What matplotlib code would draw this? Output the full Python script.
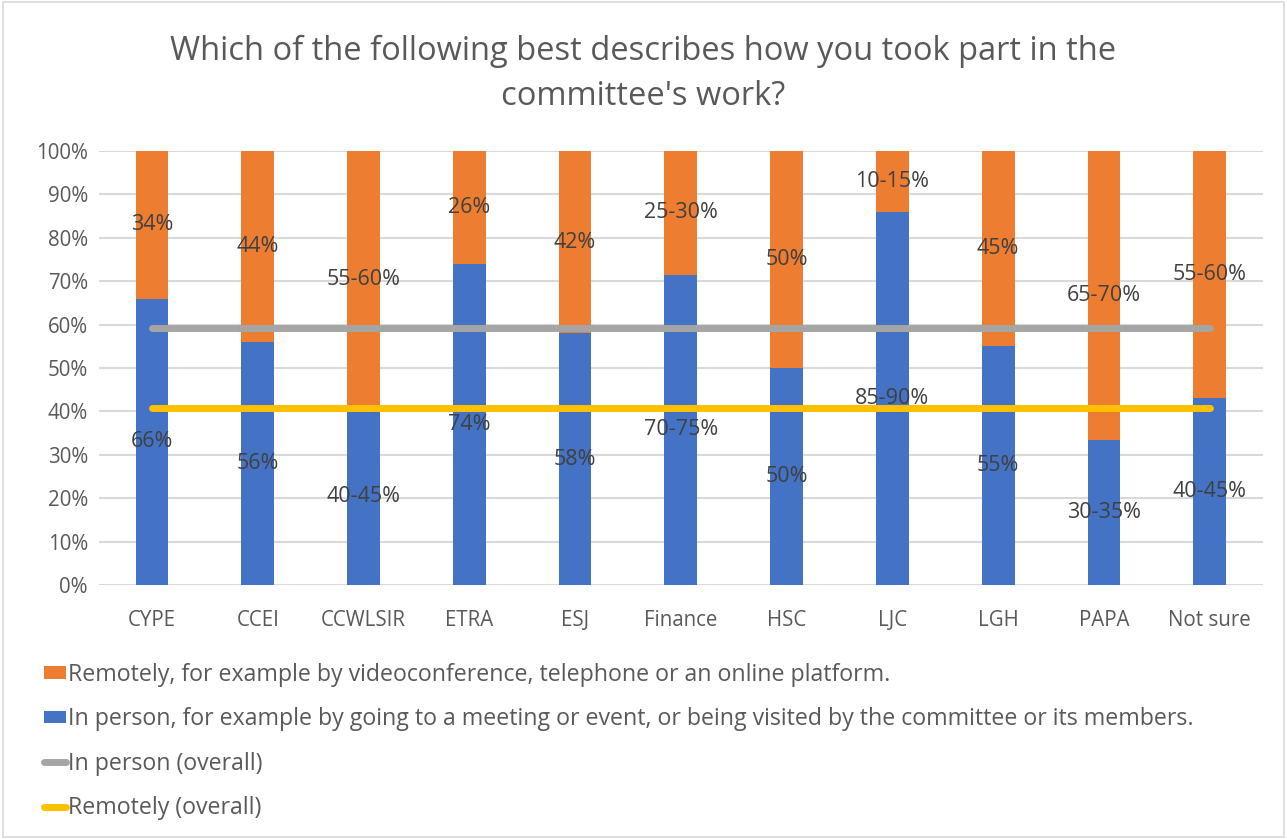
import matplotlib
matplotlib.use("Agg")
import matplotlib.pyplot as plt
from matplotlib.patches import Patch, Rectangle
from matplotlib.lines import Line2D
import numpy as np

plt.rcParams['font.family'] = ['Open Sans', 'DejaVu Sans']

categories = ["CYPE", "CCEI", "CCWLSIR", "ETRA", "ESJ", "Finance", "HSC", "LJC", "LGH", "PAPA", "Not sure"]
in_person = [66, 56, 41, 74, 58, 71.5, 50, 86, 55, 33.5, 43]
remotely = [100 - v for v in in_person]
in_person_labels = ["66%", "56%", "40-45%", "74%", "58%", "70-75%", "50%", "85-90%", "55%", "30-35%", "40-45%"]
remotely_labels = ["34%", "44%", "55-60%", "26%", "42%", "25-30%", "50%", "10-15%", "45%", "65-70%", "55-60%"]
in_person_overall = 59.2
remotely_overall = 40.8

title = "Which of the following best describes how you took part in the\ncommittee's work?"
leg_remote = "Remotely, for example by videoconference, telephone or an online platform."
leg_person = "In person, for example by going to a meeting or event, or being visited by the committee or its members."
leg_person_all = "In person (overall)"
leg_remote_all = "Remotely (overall)"

BLUE = "#4472C4"
ORANGE = "#ED7D31"
GRAY = "#A5A5A5"
YELLOW = "#FFC000"
TXT = "#595959"

fig = plt.figure(figsize=(12.87, 8.39), dpi=100)
fig.patches.append(Rectangle((0.002, 0.002), 0.996, 0.996, transform=fig.transFigure,
                             fill=False, edgecolor="#D9D9D9", linewidth=1.2))
ax = fig.add_axes([0.077, 0.3027, 0.904, 0.5173])

x = np.arange(len(categories))
w = 0.31
ax.bar(x, in_person, width=w, color=BLUE, zorder=2)
ax.bar(x, remotely, width=w, bottom=in_person, color=ORANGE, zorder=2)
ax.plot(x, [in_person_overall] * len(x), color=GRAY, linewidth=5, solid_capstyle="round", zorder=3)
ax.plot(x, [remotely_overall] * len(x), color=YELLOW, linewidth=5, solid_capstyle="round", zorder=3)

for xi, v, lab in zip(x, in_person, in_person_labels):
    ax.text(xi, v / 2, lab, ha="center", va="center", fontsize=15.5, color="#404040", zorder=4)
for xi, b, v, lab in zip(x, in_person, remotely, remotely_labels):
    ax.text(xi, b + v / 2, lab, ha="center", va="center", fontsize=15.5, color="#404040", zorder=4)

ax.set_xlim(-0.5, len(categories) - 0.5)
ax.set_ylim(0, 100)
ax.set_yticks(np.arange(0, 101, 10))
ax.set_yticklabels([f"{t}%" for t in range(0, 101, 10)])
ax.set_xticks(x)
ax.set_xticklabels(categories)
ax.tick_params(axis="both", length=0, labelsize=14.8, labelcolor=TXT)
ax.tick_params(axis="x", pad=18)
ax.tick_params(axis="y", pad=8)
ax.yaxis.grid(True, color="#D9D9D9", linewidth=1.5, zorder=0)
ax.set_axisbelow(True)
for s in ax.spines.values():
    s.set_visible(False)

fig.text(0.5, 0.912, title, ha="center", va="center", fontsize=23.5, color=TXT, linespacing=1.45)

handles = [
    Patch(facecolor=ORANGE, edgecolor="none"),
    Patch(facecolor=BLUE, edgecolor="none"),
    Line2D([0], [0], color=GRAY, linewidth=5, solid_capstyle="round"),
    Line2D([0], [0], color=YELLOW, linewidth=5, solid_capstyle="round"),
]
labels = [leg_remote, leg_person, leg_person_all, leg_remote_all]
fig.legend(handles, labels, loc="upper left", bbox_to_anchor=(0.027, 0.221), ncol=1, frameon=False,
           fontsize=16.7, labelcolor=TXT, handlelength=0.93, handleheight=0.45, handletextpad=0.12,
           labelspacing=0.88, borderaxespad=0)

fig.savefig("out.png", dpi=100)
